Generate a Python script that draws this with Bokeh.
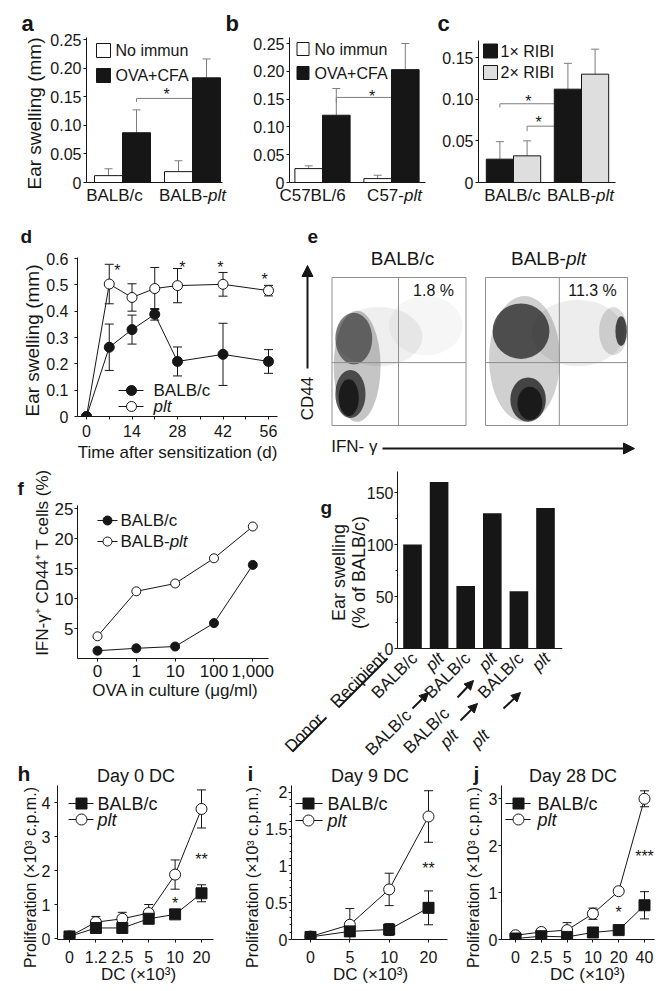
import math
import numpy as np
from bokeh.plotting import figure
from bokeh.layouts import row, column
from bokeh.models import (Range1d, FixedTicker, Label, Whisker, TeeHead, GridBox, Spacer,
                          ColumnDataSource, Arrow, NormalHead, CustomJSTickFormatter)
from bokeh.core.properties import value
from bokeh.embed import file_html
from bokeh.resources import INLINE

FONT = "Liberation Sans"
INK = "#161616"
ERR_GRAY = "#7d7d7d"
LIGHT = "#dedede"
BOX = "#8e8e8e"
PAGE_W, PAGE_H = 664, 991

# ================= data =================
# a
a_groups = ["BALB/c", "BALB-plt"]
a_series = ["No immun", "OVA+CFA"]
a_noimmun = [0.012, 0.019]
a_noimmun_err = [0.012, 0.019]
a_ova = [0.087, 0.183]
a_ova_err = [0.040, 0.033]
ab_ticks = [0, 0.05, 0.10, 0.15, 0.20, 0.25]
ab_ticklabels = ["0", "0.05", "0.10", "0.15", "0.20", "0.25"]
a_bracket_x = [0.2, 0.2, 1.0]
a_bracket_y = [0.141, 0.147, 0.147]
a_star = ([0.63], [0.161], ["*"])
# b
b_groups = ["C57BL/6", "C57-plt"]
b_noimmun = [0.025, 0.007]
b_noimmun_err = [0.005, 0.006]
b_ova = [0.121, 0.203]
b_ova_err = [0.048, 0.047]
b_bracket_x = [0.2, 0.2, 1.0]
b_bracket_y = [0.144, 0.153, 0.153]
b_star = ([0.72], [0.162], ["*"])
# c
c_groups = ["BALB/c", "BALB-plt"]
c_series = ["1\u00d7 RIBI", "2\u00d7 RIBI"]
c_ribi1 = [0.028, 0.112]
c_ribi1_err = [0.021, 0.031]
c_ribi2 = [0.032, 0.130]
c_ribi2_err = [0.018, 0.030]
c_ticks = [0, 0.05, 0.10, 0.15]
c_ticklabels = ["0", "0.05", "0.10", "0.15"]
c_bracket1_x = [-0.2, -0.2, 0.6]
c_bracket1_y = [0.090, 0.0945, 0.0945]
c_bracket2_x = [0.2, 0.2, 1.18, 1.18]
c_bracket2_y = [0.0616, 0.0676, 0.0676, 0.0616]
c_stars = ([0.22, 0.37], [0.102, 0.077], ["*", "*"])
# d
d_days = [0, 7, 14, 21, 28, 42, 56]
d_balb = [0, 0.263, 0.330, 0.388, 0.209, 0.236, 0.209]
d_balb_err = [0, 0.088, 0.055, 0.022, 0.055, 0.118, 0.045]
d_plt = [0, 0.503, 0.452, 0.486, 0.497, 0.502, 0.478]
d_plt_err = [0, 0.075, 0.052, 0.080, 0.065, 0.045, 0.020]
d_xticks = [0, 14, 28, 42, 56]
d_xminor = [7, 21, 35, 49]
d_yticks = [0, 0.1, 0.2, 0.3, 0.4, 0.5, 0.6]
d_yticklabels = ["0", "0.1", "0.2", "0.3", "0.4", "0.5", "0.6"]
d_stars = ([9.5, 29.5, 41.2, 54.8], [0.57, 0.58, 0.58, 0.535], ["*", "*", "*", "*"])
# e (flow cytometry density clouds, in decades of fluorescence)
e_titles = ["BALB/c", "BALB-plt"]
e_pct = ["1.8 %", "11.3 %"]
e_gate_x = [1.985, 2.08]
e_gate_y = [1.70, 1.70]
flow_balb = dict(x=[1.4, 0.75, 0.65, 0.55, 0.5, 2.8],
                 y=[2.4, 1.6, 2.35, 0.85, 0.75, 2.7],
                 w=[2.6, 1.4, 1.1, 0.9, 0.6, 2.2],
                 h=[1.6, 3.0, 1.4, 1.3, 1.0, 1.6],
                 a=[0.07, 0.25, 0.55, 0.7, 0.9, 0.04])
flow_plt = dict(x=[2.6, 1.1, 1.0, 1.2, 1.25, 3.6, 3.82],
                y=[2.5, 1.8, 2.55, 0.7, 0.6, 2.55, 2.55],
                w=[2.6, 2.0, 1.6, 1.0, 0.7, 0.8, 0.32],
                h=[1.8, 3.4, 1.5, 1.2, 0.9, 1.3, 0.8],
                a=[0.08, 0.2, 0.7, 0.75, 0.9, 0.15, 0.75])
# f
f_ova = ["0", "1", "10", "100", "1,000"]
f_balb = [1.3, 1.7, 2.0, 5.9, 15.6]
f_plt = [3.7, 11.2, 12.5, 16.7, 22.0]
f_yticks = [5, 10, 15, 20, 25]
# g
g_recipient = ["BALB/c", "plt", "BALB/c", "plt", "BALB/c", "plt"]
g_donor = [None, None, "BALB/c", "BALB/c", "plt", "plt"]
g_swelling = [100, 160, 60, 130, 55, 135]
g_yticks = [0, 50, 100, 150]
g_yminor = [25, 75, 125]
# h
h_dc = ["0", "1.2", "2.5", "5", "10", "20"]
h_balb = [0.06, 0.31, 0.31, 0.58, 0.71, 1.33]
h_balb_err = [0.03, 0.05, 0.05, 0.08, 0.12, 0.25]
h_plt = [0.06, 0.48, 0.58, 0.75, 1.88, 3.81]
h_plt_err = [0.03, 0.17, 0.19, 0.25, 0.43, 0.56]
h_yticks = [0, 1, 2, 3, 4]
h_stars = ([4, 5], [1.15, 2.44], ["*", "**"])
# i
i_dc = ["0", "5", "10", "20"]
i_balb = [0.035, 0.11, 0.135, 0.43]
i_balb_err = [0.02, 0.03, 0.08, 0.23]
i_plt = [0.04, 0.20, 0.68, 1.67]
i_plt_err = [0.02, 0.22, 0.22, 0.35]
i_yticks = [0, 0.5, 1, 1.5, 2]
i_yticklabels = ["0", "0.5", "1", "1.5", "2"]
i_stars = ([3], [1.02], ["**"])
# j
j_dc = ["0", "2.5", "5", "10", "20", "40"]
j_balb = [0.02, 0.07, 0.055, 0.15, 0.20, 0.73]
j_balb_err = [0.02, 0.03, 0.03, 0.04, 0.05, 0.29]
j_plt = [0.09, 0.16, 0.20, 0.55, 1.03, 3.00]
j_plt_err = [0.03, 0.03, 0.16, 0.12, 0.04, 0.17]
j_yticks = [0, 1, 2, 3]
j_stars = ([4, 5], [0.67, 1.86], ["*", "***"])

# ================= helpers =================
AW = {' ': 278, '%': 889, '(': 333, ')': 333, '*': 389, '+': 584, ',': 278, '-': 333, '.': 278,
      '/': 278, 'A': 667, 'B': 667, 'C': 722, 'D': 722, 'E': 667, 'F': 611, 'I': 278, 'L': 556,
      'N': 722, 'O': 778, 'P': 667, 'R': 722, 'T': 611, 'V': 667, 'a': 556, 'b': 556, 'c': 500,
      'd': 556, 'e': 556, 'f': 278, 'g': 556, 'i': 222, 'l': 222, 'm': 833, 'n': 556, 'o': 556,
      'p': 556, 'r': 333, 's': 500, 't': 278, 'u': 556, 'w': 722, 'z': 500}


def tw(s, size):
    return sum(AW.get(ch, 556) for ch in s) * size / 1000.0


def parts_of(name):
    if name == "plt":
        return [("plt", "italic")]
    if name.endswith("plt"):
        return [(name[:-3], "normal"), ("plt", "italic")]
    return [(name, "normal")]


class Panel:
    """A plot whose frame edges (fl, fr, ft, fb) sit at given page pixels.
    Plots in one row share the same top / bottom frame edges."""

    def __init__(self, x0, y0, w, h, fl, fr, ft, fb, xmap, ymap, tick_size=16):
        xd0, xp0, xd1, xp1 = xmap
        yd0, yp0, yd1, yp1 = ymap
        self.kx = (xd1 - xd0) / (xp1 - xp0)
        self.ky = (yd1 - yd0) / (yp0 - yp1)
        self.xd0, self.xp0, self.yd0, self.yp0 = xd0, xp0, yd0, yp0
        p = figure(width=w, height=h, x_range=Range1d(self.X(fl), self.X(fr)),
                   y_range=Range1d(self.Y(fb), self.Y(ft)), output_backend="svg",
                   toolbar_location=None, title_location=None,
                   min_border_left=fl - x0, min_border_right=x0 + w - fr,
                   min_border_top=ft - y0, min_border_bottom=y0 + h - fb)
        p.outline_line_color = None
        p.background_fill_color = "white"
        p.border_fill_color = "white"
        p.xgrid.visible = False
        p.ygrid.visible = False
        for ax in p.axis:
            ax.axis_line_color = INK
            ax.axis_line_width = 1
            ax.major_tick_line_color = INK
            ax.minor_tick_line_color = INK
            ax.major_tick_out = 3
            ax.major_tick_in = 0
            ax.minor_tick_out = 0
            ax.minor_tick_in = 0
            ax.major_label_text_font = FONT
            ax.major_label_text_font_size = f"{tick_size}px"
            ax.major_label_text_color = INK
            ax.major_label_standoff = 3
        self.fig = p

    def X(self, px):
        return self.xd0 + (px - self.xp0) * self.kx

    def Y(self, py):
        return self.yd0 + (self.yp0 - py) * self.ky


def set_ticks(ax, ticks, labels, minor=None, standoff=3):
    ax.ticker = FixedTicker(ticks=list(ticks), minor_ticks=list(minor or []))
    ax.formatter = CustomJSTickFormatter(
        args=dict(TV=[float(t) for t in ticks], TL=list(labels)),
        code="for (let k = 0; k < TV.length; k++) { if (Math.abs(TV[k] - tick) < 1e-9) return TL[k]; } return '';")
    ax.major_label_standoff = standoff
    if minor:
        ax.minor_tick_out = 2


def no_ticks(ax):
    ax.ticker = FixedTicker(ticks=[])


def errbars(P, xs, ys, errs, color, two_sided, cap, lw=1):
    xs = [float(v) for v in xs]
    lo = [y - e for y, e in zip(ys, errs)] if two_sided else [float(y) for y in ys]
    hi = [y + e for y, e in zip(ys, errs)]
    src = ColumnDataSource(dict(x=xs, lo=lo, hi=hi))
    P.fig.add_layout(Whisker(source=src, base="x", lower="lo", upper="hi",
                             line_color=color, line_width=lw,
                             upper_head=TeeHead(size=cap, line_color=color, line_width=lw),
                             lower_head=TeeHead(size=cap, line_color=color, line_width=lw) if two_sided else None))


def stars(P, spec, size=16):
    xs, ys, ts = spec
    P.fig.text(x=list(xs), y=list(ys), text=list(ts), text_font=value(FONT),
               text_font_size=value(f"{size}px"), text_align="center",
               text_baseline="middle", text_color=INK, y_offset=4)


# ---- transparent overlay page for texts / keys that sit outside the plot frames ----
OV = figure(width=PAGE_W, height=PAGE_H, x_range=Range1d(0, PAGE_W), y_range=Range1d(PAGE_H, 0),
            output_backend="svg", toolbar_location=None, title_location=None,
            x_axis_type=None, y_axis_type=None, min_border_left=0, min_border_right=0,
            min_border_top=0, min_border_bottom=0)
OV.outline_line_color = None
OV.background_fill_color = None
OV.border_fill_color = None


def olab(px, py, s, size=16, style="normal", align="center", baseline="middle", angle=0.0):
    OV.add_layout(Label(x=px, y=py, text=s, text_font=FONT, text_font_size=f"{size}px",
                        text_font_style=style, text_align=align, text_baseline=baseline,
                        angle=angle, text_color=INK))


def orich(px, py, name, size, align="center"):
    parts = parts_of(name)
    total = sum(tw(s, size) for s, _ in parts)
    cur = px - total / 2.0 if align == "center" else px
    for s, st in parts:
        olab(cur, py, s, size, st, align="left")
        cur += tw(s, size)


def oletter(px, py, s, size):
    olab(px, py, s, size, "bold", align="left", baseline="alphabetic")


def oarrow(p0, p1, head=10, lw=2):
    OV.add_layout(Arrow(end=NormalHead(size=head, fill_color=INK, line_color=INK, line_width=1) if head else None,
                        start=None, x_start=p0[0], y_start=p0[1], x_end=p1[0], y_end=p1[1],
                        line_color=INK, line_width=lw))


def oswatch(cx, cy, w, h, fill, text, tx, size=16):
    OV.quad(left=[cx - w / 2], right=[cx + w / 2], top=[cy - h / 2], bottom=[cy + h / 2],
            fill_color=fill, line_color=INK, line_width=1)
    olab(tx, cy, text, size, align="left")


def oline_key(x0, x1, cy, mx, marker, msize, fill, text, tx, size):
    OV.line([x0, x1], [cy, cy], line_color=INK, line_width=1)
    OV.scatter([mx], [cy], marker=marker, size=msize, fill_color=fill, line_color=INK, line_width=1)
    orich(tx, cy, text, size, align="left")


# ================= row 1: a, b, c (shared frame top 37 / bottom 182) =================
A = Panel(0, 0, 226, 210, 86, 222, 37, 182, (0, 122, 1, 192), (0, 182, 0.25, 39))
pa = A.fig
xa = np.arange(len(a_groups))
pa.line(a_bracket_x, a_bracket_y, line_color=ERR_GRAY, line_width=1)
pa.vbar(x=xa - 0.2, top=a_noimmun, width=0.4, fill_color="white", line_color=INK, line_width=1)
pa.vbar(x=xa + 0.2, top=a_ova, width=0.4, fill_color=INK, line_color=INK, line_width=1)
errbars(A, xa - 0.2, a_noimmun, a_noimmun_err, ERR_GRAY, False, 8)
errbars(A, xa + 0.2, a_ova, a_ova_err, ERR_GRAY, False, 8)
stars(A, a_star)
set_ticks(pa.yaxis[0], ab_ticks, ab_ticklabels, standoff=2)
no_ticks(pa.xaxis[0])
oswatch(103, 50, 14, 14, "white", a_series[0], 115)
oswatch(103, 75, 14, 14, INK, a_series[1], 115)
oletter(21, 23, "a", 22)
olab(34, 113, "Ear swelling (mm)", 19, angle=math.pi / 2)
for gx, name in zip([114, 192], a_groups):
    orich(gx, 195, name, 17)

B = Panel(226, 0, 210, 210, 289, 425, 37, 182, (0, 322, 1, 391), (0, 182, 0.25, 43))
pb = B.fig
xb = np.arange(len(b_groups))
pb.line(b_bracket_x, b_bracket_y, line_color=ERR_GRAY, line_width=1)
pb.vbar(x=xb - 0.2, top=b_noimmun, width=0.4, fill_color="white", line_color=INK, line_width=1)
pb.vbar(x=xb + 0.2, top=b_ova, width=0.4, fill_color=INK, line_color=INK, line_width=1)
errbars(B, xb - 0.2, b_noimmun, b_noimmun_err, ERR_GRAY, False, 8)
errbars(B, xb + 0.2, b_ova, b_ova_err, ERR_GRAY, False, 8)
stars(B, b_star)
set_ticks(pb.yaxis[0], ab_ticks, ab_ticklabels, standoff=2)
no_ticks(pb.xaxis[0])
oswatch(302.5, 48.5, 12, 13, "white", a_series[0], 314)
oswatch(302.5, 72.5, 12, 13, INK, a_series[1], 314)
oletter(225, 23, "b", 22)
for gx, name in zip([312, 394], b_groups):
    orich(gx, 195, name, 17)

C = Panel(436, 0, 228, 210, 478, 615, 37, 182, (0, 513, 1, 581), (0, 182, 0.15, 57))
pc = C.fig
xc = np.arange(len(c_groups))
pc.line(c_bracket1_x, c_bracket1_y, line_color=ERR_GRAY, line_width=1)
pc.line(c_bracket2_x, c_bracket2_y, line_color=ERR_GRAY, line_width=1)
pc.vbar(x=xc - 0.2, top=c_ribi1, width=0.4, fill_color=INK, line_color=INK, line_width=1)
pc.vbar(x=xc + 0.2, top=c_ribi2, width=0.4, fill_color=LIGHT, line_color=INK, line_width=1)
errbars(C, xc - 0.2, c_ribi1, c_ribi1_err, ERR_GRAY, False, 8)
errbars(C, xc + 0.2, c_ribi2, c_ribi2_err, ERR_GRAY, False, 8)
stars(C, c_stars)
set_ticks(pc.yaxis[0], c_ticks, c_ticklabels, standoff=2)
pc.yaxis[0].bounds = (0, C.Y(40))
no_ticks(pc.xaxis[0])
oswatch(490, 50.5, 14, 14, INK, c_series[0], 500)
oswatch(490, 72, 14, 14, LIGHT, c_series[1], 500)
oletter(437, 23, "c", 22)
for gx, name in zip([512, 580], c_groups):
    orich(gx, 195, name, 17)

# ================= row 2: d (plot) and e (flow dot plots, drawn on the overlay) =================
D = Panel(0, 210, 296, 252, 77, 277, 257, 416, (0, 86, 56, 268), (0, 416, 0.6, 258))
pdd = D.fig
errbars(D, d_days, d_plt, d_plt_err, INK, True, 9)
errbars(D, d_days, d_balb, d_balb_err, INK, True, 9)
pdd.line(d_days, d_plt, line_color=INK, line_width=1)
pdd.scatter(d_days, d_plt, marker="circle", size=10, fill_color="white", line_color=INK, line_width=1)
pdd.line(d_days, d_balb, line_color=INK, line_width=1)
pdd.scatter(d_days, d_balb, marker="circle", size=10, fill_color=INK, line_color=INK)
stars(D, d_stars)
set_ticks(pdd.yaxis[0], d_yticks, d_yticklabels, standoff=6)
set_ticks(pdd.xaxis[0], d_xticks, [str(v) for v in d_xticks], minor=d_xminor, standoff=5)
pdd.xaxis[0].minor_tick_out = 3
oline_key(118, 143, 390, 131, "circle", 10, INK, "BALB/c", 153, 17)
oline_key(118, 143, 406, 131, "circle", 10, "white", "plt", 153, 17)
oletter(20, 236, "d", 19)
olab(32, 340, "Ear swelling (mm)", 19, angle=math.pi / 2)
olab(177, 452, "Time after sensitization (d)", 17)

# flow plots: decades -> page pixels
E_X0 = [331.5, 485.0]
E_KX = [33.5, 35.5]
E_Y0, E_KY = 425.0, 37.0


def ex(k, d):
    return E_X0[k] + E_KX[k] * d


def ey(d):
    return E_Y0 - E_KY * d


for k, fl_ in enumerate([flow_balb, flow_plt]):
    OV.ellipse(x=[ex(k, v) for v in fl_["x"]], y=[ey(v) for v in fl_["y"]],
               width=[v * E_KX[k] for v in fl_["w"]], height=[v * E_KY for v in fl_["h"]],
               fill_color=INK, fill_alpha=fl_["a"], line_color=None)
    OV.quad(left=[ex(k, 0)], right=[ex(k, 4)], top=[ey(4)], bottom=[ey(0)],
            fill_color=None, line_color=BOX, line_width=1)
    OV.segment(x0=[ex(k, e_gate_x[k]), ex(k, 0)], y0=[ey(0), ey(e_gate_y[k])],
               x1=[ex(k, e_gate_x[k]), ex(k, 4)], y1=[ey(4), ey(e_gate_y[k])],
               line_color=BOX, line_width=1)
oletter(307, 236, "e", 19)
orich(402, 258, e_titles[0], 19)
orich(548, 258, e_titles[1], 19)
olab(433, 290, e_pct[0], 16)
olab(592, 290, e_pct[1], 16)
oarrow((307, 368), (307, 265), head=11, lw=2)
olab(307, 398, "CD44", 17, angle=math.pi / 2)
oarrow((382, 448), (634, 448), head=11, lw=2)
olab(377, 446, "IFN- \u03b3", 17, align="right")

# ================= row 3: f, g (shared frame top 471 / bottom 658) =================
F = Panel(0, 462, 282, 290, 77, 268, 471, 658, (0, 97, 4, 252.3), (0, 658, 25, 508), tick_size=17)
pf = F.fig
xf = list(range(len(f_ova)))
pf.line(xf, f_plt, line_color=INK, line_width=1)
pf.scatter(xf, f_plt, marker="circle", size=9, fill_color="white", line_color=INK, line_width=1)
pf.line(xf, f_balb, line_color=INK, line_width=1)
pf.scatter(xf, f_balb, marker="circle", size=9, fill_color=INK, line_color=INK)
set_ticks(pf.yaxis[0], f_yticks, [str(v) for v in f_yticks], standoff=1)
pf.yaxis[0].bounds = (0, F.Y(505))
set_ticks(pf.xaxis[0], xf, f_ova, standoff=3)
oline_key(97, 117, 520, 107, "circle", 9, INK, "BALB/c", 120, 17)
oline_key(97, 117, 541, 107, "circle", 9, "white", "BALB-plt", 120, 17)
oletter(17, 488, "f", 19)
olab(42, 562, "IFN-\u03b3\u207a CD44\u207a T cells (%)", 17, angle=math.pi / 2)
olab(175, 690, "OVA in culture (\u03bcg/ml)", 17)

G = Panel(282, 462, 382, 290, 397, 562, 471, 658, (0, 412, 5, 545), (0, 648, 150, 492))
pg = G.fig
xg = list(range(len(g_swelling)))
pg.vbar(x=xg, top=g_swelling, width=0.7, fill_color=INK, line_color=None)
set_ticks(pg.yaxis[0], g_yticks, [str(v) for v in g_yticks], minor=g_yminor, standoff=1)
pg.yaxis[0].bounds = (0, G.Y(471))
no_ticks(pg.xaxis[0])
pg.xaxis[0].fixed_location = 0
oletter(320, 507, "g", 19)
olab(338, 572, "Ear swelling", 18, angle=math.pi / 2)
olab(358, 572, "(% of BALB/c)", 18, angle=math.pi / 2)
Q = math.pi / 4
for k, name in enumerate(g_recipient):
    bx = 412 + k * (545 - 412) / 5.0
    olab(bx + 2, 655, name, 17, "italic" if name == "plt" else "normal", align="right", angle=Q)
donor_end_px = {2: (408, 712), 3: (446, 710), 4: (455, 732), 5: (486, 732)}
donor_arrow_px = {2: ((412, 708), (428, 692)), 3: ((457, 697), (473, 680)),
                  4: ((460, 720), (477, 703)), 5: ((503, 708), (520, 692))}
for k, name in enumerate(g_donor):
    if name is None:
        continue
    ex_, ey_ = donor_end_px[k]
    olab(ex_, ey_, name, 17, "italic" if name == "plt" else "normal", align="right", angle=Q)
    a0, a1 = donor_arrow_px[k]
    oarrow(a0, a1, head=9, lw=2)
olab(383, 654, "Recipient", 17, align="right", angle=Q)
oarrow((338, 707), (387, 658), head=0, lw=2)
olab(320, 716, "Donor", 17, align="right", angle=Q)
oarrow((292, 751), (326, 717), head=0, lw=2)


# ================= row 4: h, i, j (shared frame top 785 / bottom 939) =================
def prolif(P, cats, balb, balb_err, pltv, plt_err, yticks, ylabels, yminor, ystand):
    p = P.fig
    x = list(range(len(cats)))
    errbars(P, x, pltv, plt_err, INK, True, 9)
    errbars(P, x, balb, balb_err, INK, True, 9)
    p.line(x, pltv, line_color=INK, line_width=1)
    p.scatter(x, pltv, marker="circle", size=11, fill_color="white", line_color=INK, line_width=1)
    p.line(x, balb, line_color=INK, line_width=1)
    p.scatter(x, balb, marker="square", size=11, fill_color=INK, line_color=INK)
    set_ticks(p.xaxis[0], x, cats, standoff=8)
    set_ticks(p.yaxis[0], yticks, ylabels, minor=yminor, standoff=ystand)


H = Panel(0, 752, 222, 239, 57, 213, 785, 939, (0, 69, 5, 201), (0, 938, 4, 802))
prolif(H, h_dc, h_balb, h_balb_err, h_plt, h_plt_err, h_yticks, [str(v) for v in h_yticks], None, 4)
stars(H, h_stars)
oline_key(68, 93, 803, 81, "square", 11, INK, "BALB/c", 97, 18)
oline_key(68, 93, 819, 81, "circle", 11, "white", "plt", 97, 18)
oletter(17, 773, "h", 21)
olab(138, 775, "Day 0  DC", 18)
olab(30, 877, "Proliferation (\u00d710\u00b3 c.p.m.)", 16, angle=math.pi / 2)
olab(138, 974, "DC (\u00d710\u00b3)", 17)

I = Panel(222, 752, 233, 239, 291, 447, 785, 939, (0, 310, 3, 428), (0, 939, 2, 791.7))
prolif(I, i_dc, i_balb, i_balb_err, i_plt, i_plt_err, i_yticks, i_yticklabels,
       [v / 10.0 for v in range(1, 21) if v % 5], 1)
stars(I, i_stars)
oline_key(295, 322, 803, 308, "square", 11, INK, "BALB/c", 327, 18)
oline_key(295, 322, 820, 308, "circle", 11, "white", "plt", 327, 18)
oletter(247, 773, "i", 21)
olab(372, 775, "Day 9  DC", 18)
olab(252, 877, "Proliferation (\u00d710\u00b3 c.p.m.)", 16, angle=math.pi / 2)
olab(370, 974, "DC (\u00d710\u00b3)", 17)

J = Panel(455, 752, 209, 239, 501, 654, 785, 939, (0, 515, 5, 644), (0, 939, 3, 798.3))
prolif(J, j_dc, j_balb, j_balb_err, j_plt, j_plt_err, j_yticks, [str(v) for v in j_yticks], None, 1)
stars(J, j_stars)
oline_key(505, 530, 803, 518, "square", 11, INK, "BALB/c", 537, 18)
oline_key(505, 530, 819, 518, "circle", 11, "white", "plt", 537, 18)
oletter(473, 773, "j", 21)
olab(575, 775, "Day 28  DC", 18)
olab(473, 877, "Proliferation (\u00d710\u00b3 c.p.m.)", 16, angle=math.pi / 2)
olab(587, 974, "DC (\u00d710\u00b3)", 17)

panels = column(row(A.fig, B.fig, C.fig),
                row(D.fig, Spacer(width=368, height=252)),
                row(F.fig, G.fig),
                row(H.fig, I.fig, J.fig))
page = GridBox(children=[(panels, 0, 0), (OV, 0, 0)])
open("out.html", "w").write(file_html(page, INLINE, title="figure"))
